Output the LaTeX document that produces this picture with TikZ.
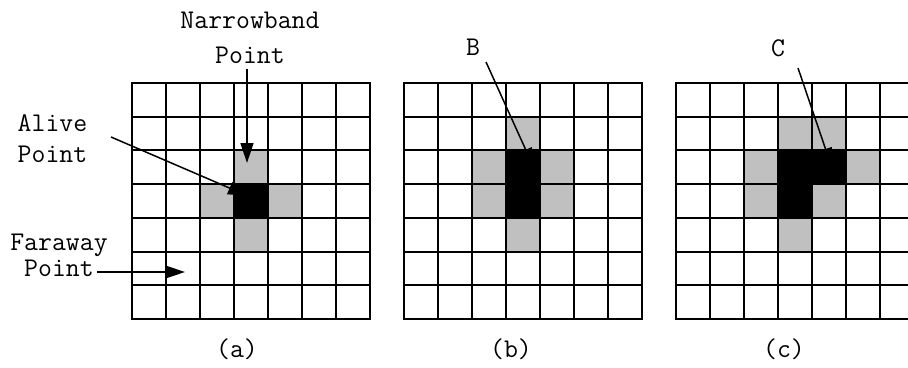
\documentclass[tikz,border=0pt]{standalone}
\usetikzlibrary{arrows.meta}
\definecolor{nbgray}{RGB}{192,192,192}
\begin{document}
\begin{tikzpicture}[x=1pt,y=-1pt,
  lbl/.style={font=\ttfamily\fontsize{27}{30}\selectfont, anchor=base, inner sep=0pt},
  ptr/.style={line width=1.5pt, -{Triangle[length=20pt,width=13pt]}},
  gridline/.style={line width=2pt, line cap=rect},
  nbcell/.style={fill=nbgray},
  alivecell/.style={fill=black}]
\useasboundingbox (0,0) rectangle (908,367);
\def\cw{34}
\def\ch{33.7}
% narrowband (gray) cells: origin x, col, row
\foreach \ox/\c/\r in {132/3/2,132/2/3,132/4/3,132/3/4,
                       404/3/1,404/2/2,404/4/2,404/2/3,404/4/3,404/3/4,
                       676/3/1,676/4/1,676/2/2,676/5/2,676/2/3,676/4/3,676/3/4}
  \fill[nbcell] (\ox+\c*\cw, 83+\r*\ch) rectangle ++(\cw,\ch);
% labels
\node[lbl] (nbA) at (250,28) {Narrowband};
\node[lbl] (nbB) at (250,63) {Point};
\node[lbl] (alA) at (52.5,131) {Alive};
\node[lbl] (alB) at (52.5,162) {Point};
\node[lbl] (faA) at (59,250) {Faraway};
\node[lbl] (faB) at (59,276) {Point};
\node[lbl] (lb) at (473,55) {B};
\node[lbl] (lc) at (778,56) {C};
\node[lbl] (capa) at (237,357) {(a)};
\node[lbl] (capb) at (511,357) {(b)};
\node[lbl] (capc) at (784,357) {(c)};
% arrow end points
\coordinate (nbs) at (247,69);   \coordinate (nbt) at (247,163);
\coordinate (als) at (111,137);  \coordinate (alt) at (248,196);
\coordinate (fas) at (97,272);   \coordinate (fat) at (185,272);
\coordinate (bs) at (486,62);    \coordinate (bt) at (534,168);
\coordinate (cs) at (798,68);    \coordinate (ct) at (832,168);
\draw[ptr] (nbs) -- (nbt);
\draw[ptr] (als) -- (alt);
\draw[ptr] (fas) -- (fat);
\draw[ptr] (bs) -- (bt);
\draw[ptr] (cs) -- (ct);
% alive (black) cells
\foreach \ox/\c/\r in {132/3/3, 404/3/2,404/3/3, 676/3/2,676/4/2,676/3/3}
  \fill[alivecell] (\ox+\c*\cw, 83+\r*\ch) rectangle ++(\cw,\ch);
% grids
\foreach \ox in {132,404,676}{
  \foreach \i in {0,...,7}{
    \draw[gridline] (\ox+\i*\cw, 83) -- (\ox+\i*\cw, 83+7*\ch);
    \draw[gridline] (\ox, 83+\i*\ch) -- (\ox+7*\cw, 83+\i*\ch);
  }
}
\end{tikzpicture}
\end{document}
